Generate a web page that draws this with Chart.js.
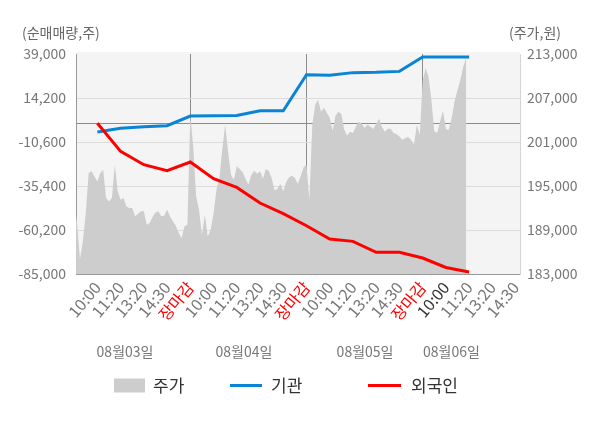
<!DOCTYPE html>
<html><head><meta charset="utf-8">
<script src="https://cdn.jsdelivr.net/npm/chart.js@4.4.0/dist/chart.umd.min.js"></script>
<style>html,body{margin:0;padding:0;background:#fff}#wrap{width:600px;height:428px;position:relative}</style>
</head><body><div id="wrap"><canvas id="c"></canvas></div>
<script>
// ---- data ----
const xTickLabels = ['10:00','11:20','13:20','14:30','장마감',
                     '10:00','11:20','13:20','14:30','장마감',
                     '10:00','11:20','13:20','14:30','장마감',
                     '10:00','11:20','13:20','14:30'];
const dateLabels = ['08월03일','08월04일','08월05일','08월06일'];
const seriesNames = ['주가','기관','외국인'];
// net-buy series sampled at tick slots 1..17
const netSlots = [1,2,3,4,5,6,7,8,9,10,11,12,13,14,15,16,17];
const instNet = [-5000,-2800,-2000,-1400,4000,4200,4400,7000,7000,27300,27000,28500,28700,29200,37300,37300,37300];
const foreignNet = [0,-15900,-23400,-26800,-21900,-31300,-36200,-45000,-51000,-57800,-65300,-66600,-72800,-72800,-76000,-81300,-83900];
// intraday price, 40 samples per trading day
const priceDay1 = [192700,190000,185000,187450,191320,196770,197000,196300,195600,196770,197200,193350,192900,193350,197900,194270,193130,193350,192200,192000,192000,190860,191200,191540,191540,189700,189950,190770,191400,191540,190860,190950,191770,190860,190180,189590,188590,187910,189500,189700];
const priceDay2 = [204700,200400,193600,191770,188360,191100,188100,189000,191300,194500,196100,199950,203360,199700,196540,195860,197680,197315,196906,196000,195180,196500,197088,196680,197000,196000,197315,197090,196088,194406,194588,195315,194270,195497,196180,196406,196088,195315,196315,197540];
const priceDay3 = [197900,193130,203360,206090,206770,205130,205680,205000,204310,202540,204590,205130,204860,202680,201860,202410,202230,203130,203810,203500,202910,203360,203130,202770,203500,204180,203050,202400,202810,202810,202230,202090,201760,201310,201540,201680,201310,200630,203360,201990];
const priceDay4 = [209260,211090,209950,206770,202450,202230,203810,205270,202770,202680,204270,206540,208040,209500,211310,212450];
const leftTicks = [39000,14200,-10600,-35400,-60200,-85000];
const rightTicks = [213000,207000,201000,195000,189000,183000];

// ---- build ----
const SLOTS_PER_DAY = 5, SAMPLES_PER_DAY = 40;
const priceDays = [priceDay1, priceDay2, priceDay3, priceDay4];
const pricePts = priceDays.flatMap((arr, d) => arr.map((v, k) => ({x: d*SLOTS_PER_DAY + k*SLOTS_PER_DAY/SAMPLES_PER_DAY, y: v})));
const instPts = netSlots.map((s, i) => ({x: s, y: instNet[i]}));
const forPts = netSlots.map((s, i) => ({x: s, y: foreignNet[i]}));

const FONT = "'Noto Sans CJK KR', 'Noto Sans', sans-serif";
Chart.defaults.font.family = FONT;
const fmt = v => v.toLocaleString('en-US');

const decor = {
  id: 'decor',
  beforeDraw(chart) {
    const {ctx, chartArea: a} = chart;
    ctx.save();
    ctx.fillStyle = '#f4f4f4';
    ctx.fillRect(a.left, a.top - 2, a.right - a.left, a.bottom - a.top + 2);
    ctx.restore();
  },
  afterDraw(chart) {
    const {ctx} = chart;
    ctx.save();
    ctx.font = "14px " + FONT;
    ctx.fillStyle = '#666';
    ctx.textBaseline = 'middle';
    ctx.textAlign = 'left';
    ctx.fillText('(순매매량,주)', 22, 33);
    ctx.fillText('(주가,원)', 509, 33);
    // date labels
    const xs = chart.scales.x;
    const datePos = [2.19, 7.31, 12.52, 16.24];
    ctx.fillStyle = '#777';
    ctx.textAlign = 'center';
    dateLabels.forEach((t, i) => ctx.fillText(t, xs.getPixelForValue(datePos[i]), 352));
    // legend
    const ly = 385.5;
    ctx.font = "17px " + FONT;
    ctx.textAlign = 'left';
    ctx.fillStyle = '#cdcdcd';
    ctx.fillRect(114, ly - 7, 31, 14);
    ctx.fillStyle = '#333';
    ctx.fillText(seriesNames[0], 153, ly);
    ctx.lineWidth = 3;
    ctx.strokeStyle = '#0a84d4';
    ctx.beginPath(); ctx.moveTo(230, ly); ctx.lineTo(262, ly); ctx.stroke();
    ctx.fillText(seriesNames[1], 271, ly);
    ctx.strokeStyle = '#ff0000';
    ctx.beginPath(); ctx.moveTo(368, ly); ctx.lineTo(401, ly); ctx.stroke();
    ctx.fillText(seriesNames[2], 411, ly);
    ctx.restore();
  }
};

new Chart(document.getElementById('c'), {
  type: 'line',
  data: {
    datasets: [
      {label: seriesNames[2], data: forPts, yAxisID: 'yL', borderColor: '#ff0000', borderWidth: 3, pointRadius: 0, tension: 0, order: 0},
      {label: seriesNames[1], data: instPts, yAxisID: 'yL', borderColor: '#0a84d4', borderWidth: 3, pointRadius: 0, tension: 0, order: 1},
      {label: seriesNames[0], data: pricePts, yAxisID: 'yR', borderWidth: 0, borderColor: 'rgba(0,0,0,0)', backgroundColor: '#cdcdcd', fill: 'start', pointRadius: 0, tension: 0, order: 2}
    ]
  },
  options: {
    responsive: true, maintainAspectRatio: false, animation: false,
    devicePixelRatio: 1,
    layout: {padding: {top: 54, left: 0, right: 0, bottom: 0}},
    plugins: {legend: {display: false}, tooltip: {enabled: false}},
    scales: {
      x: {
        type: 'linear', min: 0.08, max: 19.19,
        afterBuildTicks: s => { s.ticks = xTickLabels.map((_, i) => ({value: i + 1})); },
        afterFit: s => { s.height = 154; },
        ticks: {
          autoSkip: false, minRotation: 50, maxRotation: 50, padding: 4,
          font: {size: 16},
          callback: (v) => xTickLabels[v - 1],
          color: c => { const l = xTickLabels[c.tick.value - 1]; return l === '장마감' ? '#ff0000' : (c.tick.value === 16 ? '#333' : '#777'); }
        },
        grid: {drawTicks: false, color: c => (c.tick && c.tick.value % 5 === 0) ? '#8c8c8c' : 'rgba(0,0,0,0)', lineWidth: 1},
        border: {display: true, color: '#999'}
      },
      yL: {
        type: 'linear', position: 'left', min: -85000, max: 39000,
        afterBuildTicks: s => { s.ticks = leftTicks.concat([0]).map(v => ({value: v})); },
        afterFit: s => { s.width = 76; },
        ticks: {autoSkip: false, padding: 10, color: '#777', font: {size: 14}, callback: v => v === 0 ? '' : fmt(v)},
        grid: {drawTicks: false, color: c => { const v = c.tick ? c.tick.value : null; if (v === 0) return '#8c8c8c'; if (v === 39000 || v === -85000) return 'rgba(0,0,0,0)'; return '#dcdcdc'; }},
        border: {display: true, color: '#999'}
      },
      yR: {
        type: 'linear', position: 'right', min: 183000, max: 213000,
        afterBuildTicks: s => { s.ticks = rightTicks.map(v => ({value: v})); },
        afterFit: s => { s.width = 80; },
        ticks: {autoSkip: false, padding: 7, color: '#777', font: {size: 14}, callback: v => fmt(v)},
        grid: {display: false, drawTicks: false},
        border: {display: true, color: '#d4d4d4'}
      }
    }
  },
  plugins: [decor]
});
</script></body></html>
